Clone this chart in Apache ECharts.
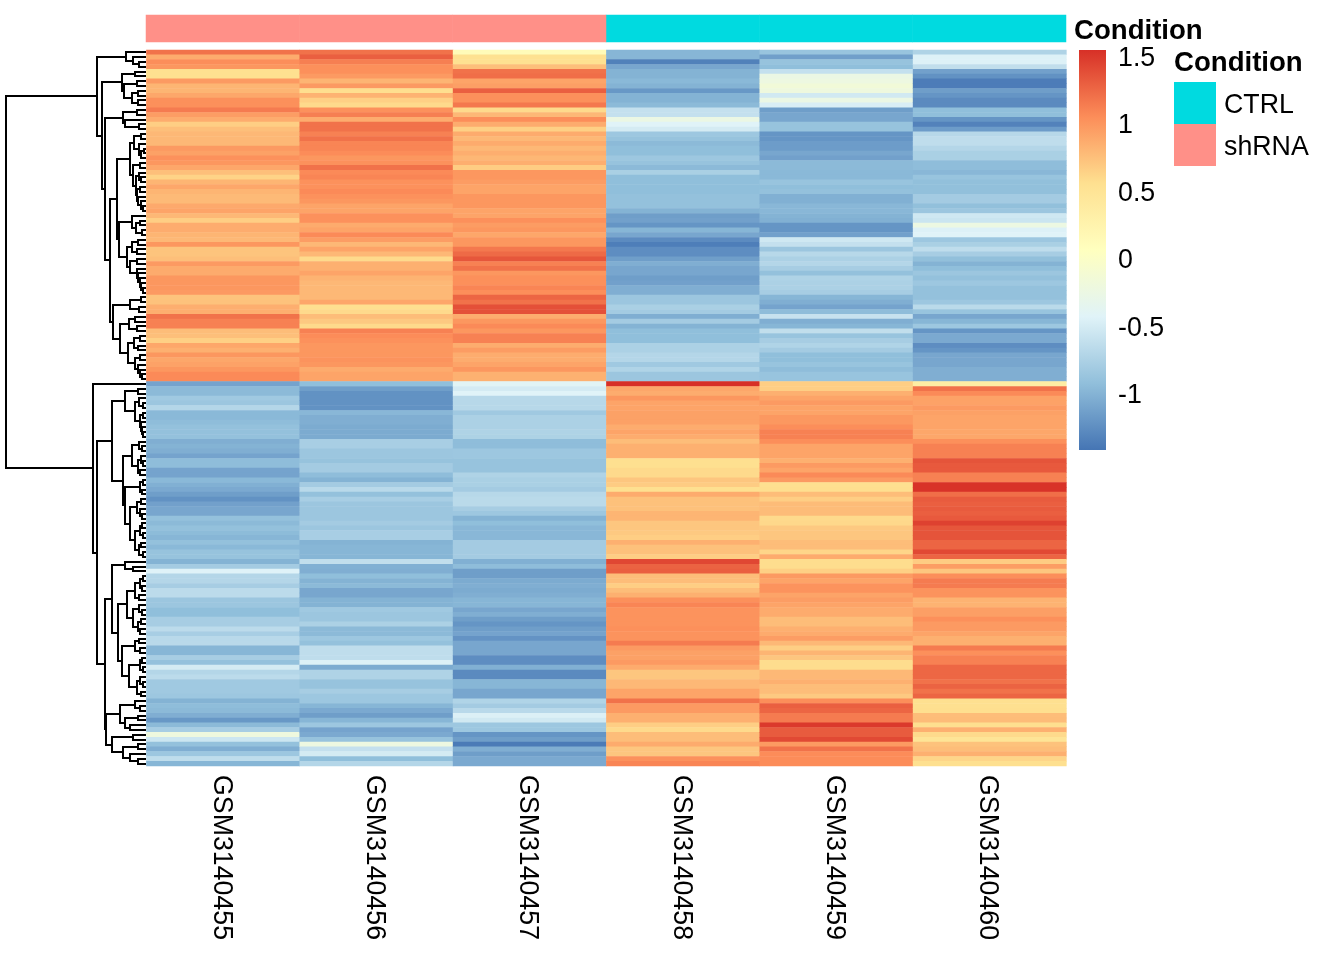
<!DOCTYPE html>
<html><head><meta charset="utf-8"><style>html,body{margin:0;background:#fff}#c{width:1344px;height:960px}</style>
<script src="https://cdn.jsdelivr.net/npm/echarts@6/dist/echarts.min.js"></script></head>
<body><div id="c"></div><script>
const samples = ['GSM3140455','GSM3140456','GSM3140457','GSM3140458','GSM3140459','GSM3140460'];
const conditionGroups = {shRNA:[0,1,2], CTRL:[3,4,5]};
const legendOrder = ['CTRL','shRNA'];
const legendTicks = [-1,-0.5,0,0.5,1,1.5];
const valueMin = -1.41, valueMax = 1.55;
const palette = ['#4575B4','#91BFDB','#E0F3F8','#FFFFBF','#FEE090','#FC8D59','#D73027'];
const GSM3140455 = [1.2,.88,1.05,1.0,.56,.56,.98,.82,.82,.9,
1.04,1.04,1.15,.96,.87,.67,.76,.8,.8,.8,
.98,.94,1.03,1.0,.9,.76,.64,.82,.9,.82,
.79,.79,.89,.92,.8,.67,.87,.87,.82,.8,
1.0,.73,.73,.76,.98,.88,.88,1.0,1.0,1.0,
.98,.73,.74,.86,.86,1.2,1.12,1.12,.77,.76,
.66,.9,.85,1.0,.9,.93,1.0,1.07,1.07,
-1.1,-.95,-.95,-.82,-.85,-.7,-.96,-.96,-.93,-.9,-.9,
-.9,-1.03,-1.0,-1.03,-1.1,-.93,-.93,-1.1,-1.1,-.96,
-1.02,-1.06,-1.14,-1.22,-1.12,-1.08,-1.08,-.9,-.95,-.9,
-.94,-.98,-.9,-.96,-.88,-.88,-1.0,-.8,-.43,-.7,
-.7,-.78,-.65,-.65,-.85,-.85,-.92,-.92,-.78,-.78,
-.65,-.77,-.67,-.67,-.98,-.98,-.78,-.9,-.5,-.7,
-.65,-.82,-.82,-.82,-.84,-1.0,-.93,-.95,-1.03,-1.18,
-.95,-.78,-.2,-.55,-.9,-1.03,-.84,-.63,-.98];
const GSM3140456 = [1.2,1.3,1.13,1.04,1.04,.98,.82,.98,.57,.83,
.66,.6,1.03,1.13,.87,1.2,1.2,1.12,1.2,1.1,
1.1,1.06,1.0,1.03,1.2,1.07,1.1,1.03,1.03,1.07,
1.03,1.0,.92,.92,1.03,1.03,.88,.92,1.07,.96,
.8,.92,.8,.6,.85,.85,.92,.83,.8,.8,
.8,.8,.9,.56,.6,.77,.7,.6,1.12,1.06,
1.03,1.0,1.0,1.0,1.02,1.0,.88,.92,.92,
-.92,-1.14,-1.22,-1.22,-1.22,-1.22,-.97,-1.03,-1.03,-1.05,-1.05,
-1.05,-.77,-.77,-.85,-.85,-.88,-.8,-.8,-.93,-1.0,
-.8,-.67,-.9,-.77,-.85,-.85,-.85,-.85,-.8,-.85,
-.77,-.77,-1.0,-.98,-.98,-.98,-.62,-1.02,-1.03,-.92,
-1.0,-.95,-1.08,-1.08,-1.0,-1.0,-.82,-.85,-.85,-.75,
-.95,-.95,-.84,-.9,-.63,-.63,-.63,-.45,-1.05,-.73,
-.73,-.88,-.88,-.78,-.84,-.84,-.98,-1.06,-1.14,-.98,
-.84,-1.1,-1.06,-.88,-.22,-.6,-.5,-.92,-.7];
const GSM3140457 = [.13,.55,.55,.76,1.2,1.22,.92,.95,1.3,1.04,
1.04,1.17,.6,.8,1.05,.87,.66,.88,.8,.88,
.8,.86,.81,.86,.68,1.0,1.0,.97,.92,.92,
1.0,1.0,1.0,.92,.92,1.04,.97,1.0,.9,1.0,
1.0,1.17,1.24,1.35,1.12,1.2,1.0,1.04,1.04,1.1,
1.05,1.27,1.2,1.38,1.38,.87,1.0,1.07,1.0,1.12,
1.12,.87,.97,.87,.87,.92,1.0,.84,.84,
-.4,-.5,-.42,-.68,-.68,-.68,-.82,-.75,-.75,-.75,-.73,
-.74,-.93,-.93,-.84,-.84,-.88,-.88,-.88,-.73,-.76,
-.76,-.8,-.68,-.66,-.66,-.78,-.84,-1.0,-.92,-.97,
-.97,-.97,-.8,-.8,-.8,-.8,-1.02,-.93,-1.14,-1.14,
-1.05,-1.03,-1.05,-1.03,-.98,-.98,-1.08,-1.03,-1.14,-1.2,
-1.14,-1.1,-1.21,-1.08,-1.08,-1.08,-1.25,-1.25,-1.02,-1.27,
-1.27,-.98,-.98,-1.08,-1.08,-.72,-.8,-.67,-.45,-.52,
-.84,-.84,-1.2,-1.14,-1.37,-1.03,-1.14,-1.06,-1.06];
const GSM3140458 = [-.98,-.98,-1.33,-1.08,-1.0,-1.0,-.96,-1.0,-1.18,-1.0,
-1.0,-.95,-.6,-.6,-.25,-.42,-.5,-.84,-.88,-.95,
-.92,-.92,-.84,-.88,-.95,-.76,-.92,-.92,-.92,-.92,
-.9,-.9,-.9,-1.0,-1.14,-1.12,-1.2,-.98,-1.08,-1.26,
-1.35,-1.25,-1.25,-1.14,-1.03,-1.08,-1.08,-1.14,-1.12,-1.03,
-1.03,-.85,-.85,-.76,-.8,-1.03,-.8,-1.0,-.92,-.92,
-.92,-.75,-.75,-.7,-.7,-.82,-.72,-.85,-.85,
1.55,.9,.87,1.0,.92,.92,.94,.94,.94,.87,.92,
.87,.77,.85,.85,.85,.56,.56,.6,.6,.72,
.68,.56,.88,.75,.75,.75,.82,.82,.72,.72,
.7,.67,.85,.75,.75,.67,1.43,1.28,1.3,.77,
.77,.67,.77,.85,1.04,1.1,1.02,1.02,1.02,1.02,
1.04,1.02,1.02,1.15,.98,.94,.94,.98,.88,.72,
.72,.8,.8,.92,.92,1.2,.98,.98,.85,.85,
.67,.6,.77,.77,.88,.72,.72,1.03,1.1];
const GSM3140459 = [-.87,-1.13,-.88,-.92,-.6,-.25,-.22,-.15,-.2,-.52,
-.25,-.47,-1.14,-1.08,-1.08,-.88,-.88,-1.2,-1.2,-1.15,
-1.15,-1.08,-1.12,-.95,-.95,-.96,-.96,-.87,-.92,-.9,
-1.02,-1.02,-.97,-.97,-1.0,-1.02,-1.2,-1.2,-1.12,-.53,
-.6,-.85,-.68,-.75,-.7,-.78,-.9,-.73,-.75,-.75,
-.78,-.98,-1.03,-1.1,-.93,-.58,-1.03,-.98,-.62,-.87,
-.78,-.72,-.8,-.92,-.92,-.87,-.93,-.87,-.87,
.67,.67,.85,.92,.98,.92,.92,.99,.99,1.05,1.12,
1.12,1.05,.92,.92,.92,.85,.98,.92,1.07,.98,
.56,.57,.77,.67,.78,.78,.78,.6,.61,.7,
.72,.72,.77,.77,.63,.88,.58,.58,.66,.98,
.92,1.02,1.02,.92,.96,.92,.88,.88,.77,.77,
.85,.88,.96,.8,.67,.82,.72,.58,.58,.8,
.8,.85,.77,.77,.7,1.05,1.3,1.27,1.15,1.15,
1.5,1.32,1.32,1.42,.98,1.2,1.06,1.06,1.06];
const GSM3140460 = [-.73,-.44,-.44,-.62,-1.12,-1.22,-1.36,-1.36,-1.14,-1.2,
-1.27,-1.27,-.92,-.92,-1.2,-1.32,-1.15,-.68,-.63,-.63,
-.7,-.76,-.76,-.93,-.93,-.97,-.87,-.91,-.91,-.91,
-.8,-.8,-.91,-.85,-.53,-.56,-.23,-.44,-.42,-.84,
-.76,-.63,-.78,-.91,-1.0,-.92,-.85,-.9,-.84,-.9,
-.9,-.9,-.84,-.66,-.87,-1.08,-.98,-.84,-1.2,-1.06,
-1.06,-1.25,-1.2,-1.08,-1.08,-1.08,-1.03,-1.03,-1.03,
.35,1.2,1.07,.93,.93,.98,.94,.92,.92,.92,.9,
.9,1.04,1.12,1.12,1.12,1.36,1.33,1.33,1.12,1.12,
1.54,1.54,1.22,1.32,1.3,1.32,1.3,1.33,1.46,1.35,
1.36,1.36,1.27,1.27,1.42,1.27,.68,.96,.72,1.05,
1.15,1.15,1.02,1.02,.83,.83,.95,.95,1.04,.98,
.98,.92,.85,.85,1.15,1.04,1.12,1.12,1.26,1.26,
1.26,1.2,1.28,1.2,1.27,.56,.56,.57,.77,.78,
.57,.85,.6,.5,.74,.77,.85,.63,.56];
// row dendrogram: [merge height, upper child, lower child]; 0 is a leaf row
const topClusterTree = [49,
 [20,0,[13,0,[7,0,0]]],
 [44,
  [24,[11,0,0],[22,[9,0,0],[14,[8,0,0],[8,0,0]]]],
  [41,
   [23,[9,0,0],[21,0,[7,0,0]]],
   [36,
    [29,
     [16,
      [12,[5,0,0],[7,0,[5,[2,0,0],0]]],
      [13,[6,0,0],[10,[7,0,[5,0,0]],[9,[6,0,0],[8,0,[5,0,[3,0,0]]]]]]],
     [27,
      [14,0,[10,[6,0,0],[4,0,0]]],
      [19,[14,[8,0,0],[9,0,0]],[16,[9,0,0],[9,0,[8,0,[6,0,[5,0,[3,0,0]]]]]]]]],
    [33,
     [16,[5,0,0],[7,0,0]],
     [26,
      [17,[11,0,0],[9,0,0]],
      [18,[12,[6,0,0],[8,0,0]],[11,[6,0,0],[8,0,[6,0,[4,0,0]]]]]]]]]]];
const bottomClusterTree = [53,0,
 [49,
  [34,
   [21,[8,0,0],[11,[7,0,[3,0,0]],[6,[3,0,0],[5,0,[4,0,[3,0,0]]]]]],
   [23,
    [14,[7,0,[4,0,0]],[8,[5,0,[3,0,0]],[6,0,0]]],
    [21,[6,[3,0,0],[4,0,0]],
     [16,[9,[5,0,0],[6,0,[4,0,0]]],[11,[6,[4,0,0],[3,0,0]],[7,[5,0,0],[3,0,0]]]]]]],
  [41,
   [34,
    [21,0,[13,0,0]],
    [28,
     [19,[11,[6,[3,0,0],[4,0,0]],[7,0,0]],[13,[7,0,[4,0,0]],[8,[5,0,0],[6,0,0]]]],
     [24,[11,[7,0,0],[6,0,0]],[17,[6,[4,0,0],[3,0,0]],[9,[6,0,[3,0,0]],[5,0,0]]]]]],
   [40.5,
    [26,[11,0,[6,0,0]],[21,[8,0,0],[16,0,0]]],
    [34,[13,0,0],[23,[8,0,0],[16,0,[8,0,0]]]]]]]];
const rootHeight = 140;

const columns = [GSM3140455,GSM3140456,GSM3140457,GSM3140458,GSM3140459,GSM3140460];
const nRows = GSM3140455.length;
const rows = GSM3140455.map((_,i)=>String(i));
const cells = [];
columns.forEach((col,c)=>col.forEach((v,r)=>cells.push([c,r,v])));

// walk the tree: leaves take consecutive rows, each merge yields one bracket
const brackets = [];
let nextLeaf = 0;
function walk(n){
  if(n===0){ return {h:0,y:(nextLeaf++)+0.5}; }
  const a=walk(n[1]), b=walk(n[2]);
  brackets.push([n[0],a.h,a.y,b.h,b.y]);
  return {h:n[0],y:(a.y+b.y)/2};
}
walk([rootHeight,topClusterTree,bottomClusterTree]);

const FONT='"Liberation Sans",Arial,sans-serif', FS=26.75;
const condColor={CTRL:'#00DAE0',shRNA:'#FF9088'};
const annSeries = legendOrder.map(name=>({
  type:'heatmap',name,xAxisIndex:1,yAxisIndex:1,
  itemStyle:{color:condColor[name]},silent:true,
  data:conditionGroups[name].map(i=>[i,0,1])
}));

const chart=echarts.init(document.getElementById('c'),null,{renderer:'canvas'});
chart.setOption({
  animation:false,backgroundColor:'#fff',
  textStyle:{fontFamily:FONT},
  title:[
    {text:'Condition',left:1074,top:16.5,padding:0,textStyle:{fontFamily:FONT,fontSize:27.6,fontWeight:'bold',color:'#000',lineHeight:30}},
    {text:'Condition',left:1174,top:48.5,padding:0,textStyle:{fontFamily:FONT,fontSize:27.6,fontWeight:'bold',color:'#000',lineHeight:30}}
  ],
  legend:{data:legendOrder,orient:'vertical',left:1174,top:82,padding:0,itemWidth:42,itemHeight:42,itemGap:0,icon:'rect',
    selectedMode:false,formatter:name=>'{s|}\n{a|'+name+'}',
    textStyle:{rich:{s:{height:6,fontSize:1,lineHeight:6},a:{fontFamily:FONT,fontSize:FS,color:'#000',padding:[0,0,0,3],lineHeight:30}}}},
  grid:[
    {left:146.4,top:50,width:920,height:716},
    {left:146,top:15,width:920,height:27},
    {left:6,top:50,width:140,height:716},
    {left:1079,top:51.5,width:27,height:400},
    {left:1079,top:50,width:27,height:400},
    {left:144.4,top:50,width:920,height:716}
  ],
  xAxis:[
    {type:'category',gridIndex:0,data:samples,show:false},
    {type:'category',gridIndex:1,data:samples,show:false},
    {type:'value',gridIndex:2,min:0,max:rootHeight,inverse:true,show:false},
    {type:'value',gridIndex:3,min:0,max:1,show:false},
    {type:'value',gridIndex:4,min:0,max:1,show:false},
    {type:'category',gridIndex:5,data:samples,axisLine:{show:false},axisTick:{show:false},splitLine:{show:false},
      axisLabel:{rotate:-90,margin:9,fontFamily:FONT,fontSize:FS,color:'#000',interval:0}}
  ],
  yAxis:[
    {type:'category',gridIndex:0,data:rows,inverse:true,show:false},
    {type:'category',gridIndex:1,data:['Condition'],show:false},
    {type:'value',gridIndex:2,min:0,max:nRows,inverse:true,show:false},
    {type:'value',gridIndex:3,min:valueMin,max:valueMax,position:'right',splitLine:{show:false},axisLine:{show:false},axisTick:{show:false},
      axisLabel:{show:true,customValues:legendTicks,margin:12,fontFamily:FONT,fontSize:FS,color:'#000'}},
    {type:'value',gridIndex:4,min:valueMin,max:valueMax,show:false},
    {type:'value',gridIndex:5,min:0,max:1,show:false}
  ],
  visualMap:{type:'continuous',show:false,seriesIndex:0,min:valueMin,max:valueMax,inRange:{color:palette}},
  series:[
    {type:'heatmap',xAxisIndex:0,yAxisIndex:0,data:cells,silent:true,progressive:0},
    ...annSeries,
    {type:'custom',xAxisIndex:2,yAxisIndex:2,silent:true,data:brackets,clip:false,
      encode:{x:0,y:2},
      renderItem:(p,api)=>{
        const hP=api.value(0),hA=api.value(1),yA=api.value(2),hB=api.value(3),yB=api.value(4);
        const pts=[[hA,yA],[hP,yA],[hP,yB],[hB,yB]].map(q=>api.coord(q).map(Math.round));
        return {type:'polyline',shape:{points:pts},style:{fill:null,stroke:'#000',lineWidth:2}};
      }},
    {type:'custom',xAxisIndex:4,yAxisIndex:4,silent:true,data:[[0,1,valueMin,valueMax]],
      encode:{x:[0,1],y:[2,3]},
      renderItem:(p,api)=>{
        const a=api.coord([api.value(0),api.value(3)]), b=api.coord([api.value(1),api.value(2)]);
        return {type:'rect',shape:{x:a[0],y:a[1],width:b[0]-a[0],height:b[1]-a[1]},
          style:{fill:new echarts.graphic.LinearGradient(0,1,0,0,palette.map((c,i)=>({offset:i/(palette.length-1),color:c})))}};
      }}
  ]
});
</script></body></html>
